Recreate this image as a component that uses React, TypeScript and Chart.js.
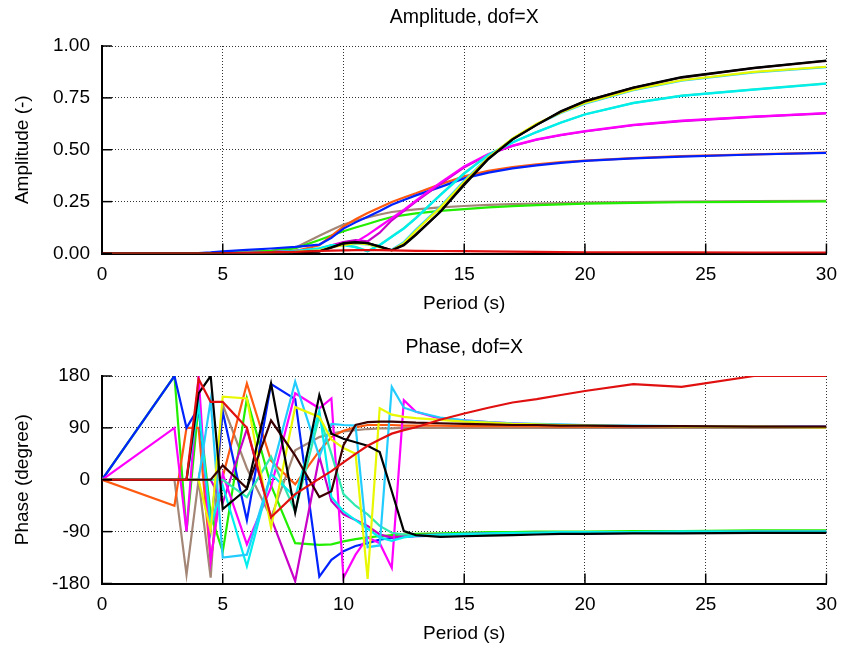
import React, { useEffect, useRef } from "react";
import { Chart, registerables } from "chart.js";

Chart.register(...registerables);

// Periods (s)
const periods = [0, 3, 3.5, 4, 4.5, 5, 6, 7, 8, 9, 9.5, 10, 10.5, 11, 11.5, 12, 12.5, 13, 14, 15, 16, 17, 18, 19, 20, 22, 24, 27, 30];

// Tick labels
const xTicks = [0, 5, 10, 15, 20, 25, 30];
const ampTicks = [0, 0.25, 0.5, 0.75, 1];
const phaseTicks = [-180, -90, 0, 90, 180];

// Series names / colours (first drawn on top)
const seriesNames = ["red", "black", "maroon", "yellow", "lightblue", "cyan", "teal", "magenta", "purple", "blue", "orange", "green", "brown"];
const seriesColors = ["#e01010", "#000000", "#3a0000", "#e8f800", "#22ccff", "#00eeee", "#30e8b0", "#ff00ff", "#c800c8", "#0022ff", "#ff5a10", "#22ee00", "#a38676"];

// Amplitude (-)
const ampRed = [0, 0, 0, 0, 0, 0.001, 0.003, 0.005, 0.008, 0.012, 0.014, 0.015, 0.016, 0.016, 0.016, 0.015, 0.014, 0.013, 0.012, 0.011, 0.01, 0.009, 0.008, 0.007, 0.006, 0.005, 0.005, 0.004, 0.004];
const ampBlack = [0, 0, 0, 0, 0, 0.001, 0.002, 0.003, 0.005, 0.01, 0.03, 0.05, 0.055, 0.05, 0.033, 0.015, 0.04, 0.09, 0.2, 0.33, 0.455, 0.55, 0.62, 0.685, 0.735, 0.8, 0.85, 0.895, 0.93];
const ampMaroon = [0, 0, 0, 0, 0, 0.001, 0.002, 0.003, 0.005, 0.01, 0.028, 0.048, 0.054, 0.05, 0.034, 0.016, 0.042, 0.092, 0.2, 0.335, 0.457, 0.55, 0.62, 0.683, 0.733, 0.798, 0.848, 0.893, 0.928];
const ampYellow = [0, 0, 0, 0, 0, 0.001, 0.002, 0.004, 0.008, 0.015, 0.03, 0.04, 0.05, 0.045, 0.03, 0.015, 0.05, 0.11, 0.22, 0.345, 0.462, 0.555, 0.625, 0.68, 0.725, 0.79, 0.835, 0.875, 0.9];
const ampLightblue = [0, 0, 0, 0, 0, 0.001, 0.002, 0.004, 0.008, 0.016, 0.03, 0.042, 0.048, 0.044, 0.03, 0.018, 0.055, 0.115, 0.225, 0.35, 0.465, 0.552, 0.622, 0.677, 0.722, 0.787, 0.833, 0.873, 0.898];
const ampCyan = [0, 0, 0, 0, 0, 0.001, 0.003, 0.006, 0.012, 0.025, 0.04, 0.04, 0.03, 0.01, 0.04, 0.08, 0.12, 0.17, 0.28, 0.385, 0.475, 0.535, 0.585, 0.63, 0.67, 0.725, 0.76, 0.79, 0.818];
const ampTeal = [0, 0, 0, 0, 0, 0.001, 0.003, 0.006, 0.012, 0.024, 0.038, 0.042, 0.032, 0.012, 0.042, 0.082, 0.122, 0.172, 0.282, 0.387, 0.476, 0.536, 0.586, 0.631, 0.671, 0.726, 0.761, 0.791, 0.82];
const ampMagenta = [0, 0, 0, 0, 0, 0.001, 0.003, 0.007, 0.013, 0.02, 0.035, 0.05, 0.055, 0.09, 0.13, 0.17, 0.21, 0.255, 0.34, 0.42, 0.48, 0.52, 0.55, 0.572, 0.59, 0.62, 0.64, 0.66, 0.677];
const ampPurple = [0, 0, 0, 0, 0, 0.001, 0.003, 0.007, 0.013, 0.022, 0.04, 0.055, 0.065, 0.058, 0.1, 0.16, 0.205, 0.25, 0.335, 0.415, 0.477, 0.518, 0.548, 0.57, 0.588, 0.618, 0.638, 0.658, 0.675];
const ampBlue = [0, 0, 0, 0.002, 0.005, 0.01, 0.017, 0.024, 0.032, 0.043, 0.075, 0.12, 0.15, 0.177, 0.205, 0.235, 0.258, 0.28, 0.32, 0.362, 0.39, 0.41, 0.425, 0.437, 0.446, 0.458, 0.467, 0.477, 0.485];
const ampOrange = [0, 0, 0, 0, 0, 0.001, 0.003, 0.006, 0.012, 0.04, 0.085, 0.13, 0.165, 0.195, 0.222, 0.248, 0.27, 0.29, 0.333, 0.372, 0.398, 0.416, 0.43, 0.44, 0.448, 0.46, 0.469, 0.478, 0.486];
const ampGreen = [0, 0, 0, 0, 0.002, 0.004, 0.008, 0.013, 0.025, 0.065, 0.087, 0.107, 0.125, 0.142, 0.16, 0.176, 0.185, 0.193, 0.205, 0.214, 0.222, 0.228, 0.233, 0.237, 0.24, 0.244, 0.247, 0.249, 0.251];
const ampBrown = [0, 0, 0, 0, 0.002, 0.004, 0.008, 0.013, 0.028, 0.085, 0.113, 0.14, 0.158, 0.174, 0.188, 0.2, 0.207, 0.213, 0.222, 0.229, 0.234, 0.238, 0.241, 0.243, 0.245, 0.248, 0.25, 0.252, 0.254];

// Phase (degree)
const phRed = [0, 0, 0, 175, 135, 135, 90, -65, -25, 2, 15, 30, 45, 59, 70, 80, 86, 91, 104, 115, 125, 134, 140, 147, 154, 166, 161, 180, 180];
const phBlack = [0, 0, 0, 150, 180, -51, -16, 167, -57, 147, 80, 71, 65, 59, 48, -20, -89, -96, -99, -98, -97, -96, -95, -94, -94, -93, -93, -92, -92];
const phMaroon = [0, 0, 0, 0, 0, 25, -15, 103, 42, -30, -20, 60, 95, 100, 101, 101, 100, 99, 98, 97, 96, 95, 95, 94, 94, 93, 93, 92, 92];
const phYellow = [0, 0, 0, 0, -88, 144, 141, -83, 126, 109, 70, 55, 45, -172, 124, 113, 109, 107, 104, 101, 99, 97, 96, 95, 94, 93, 92, 92, 91];
const phLightblue = [0, 0, 0, 0, 138, -135, -130, 10, 170, 40, 97, 95, 94, -117, -114, 161, 125, 118, 108, 103, 100, 98, 97, 96, 95, 94, 93, 92, 92];
const phCyan = [0, 0, 0, 130, -80, -10, -150, 10, -30, 120, -30, -55, -70, -85, -100, -106, -100, -97, -95, -94, -93, -92, -92, -91, -91, -91, -90, -90, -90];
const phTeal = [0, 0, 0, 0, 0, 0, -30, 40, -55, 110, 45, -25, -45, -60, -80, -92, -95, -96, -96, -95, -94, -93, -92, -92, -91, -91, -90, -90, -90];
const phMagenta = [0, 90, -90, 180, -141, 10, -112, -13, 150, 124, 141, -170, -130, -100, -110, -153, 138, 118, 106, 103, 100, 98, 96, 95, 94, 93, 92, 92, 92];
const phPurple = [0, 0, 0, 0, 0, -40, 88, -66, -176, 40, -37, -60, -70, -80, -95, -100, -98, -96, -95, -94, -93, -93, -92, -92, -91, -91, -91, -90, -90];
const phBlue = [0, 180, 90, 125, -85, 118, -70, 166, 140, -168, -139, -124, -115, -110, -104, -101, -99, -98, -97, -96, -95, -94, -94, -93, -93, -92, -92, -91, -91];
const phOrange = [0, -45, 90, 90, -140, 5, 167, 33, -8, 50, 74, 85, 91, 95, 95, 95, 94, 94, 94, 93, 93, 93, 93, 92, 92, 92, 92, 92, 92];
const phGreen = [0, 180, -90, 130, -60, -125, 141, -10, -110, -113, -112, -107, -103, -100, -98, -96, -95, -94, -93, -92, -91, -91, -90, -90, -90, -89, -89, -88, -88];
const phBrown = [0, 0, -165, 0, -170, 130, 20, -66, 51, 74, 80, 84, 86, 88, 89, 89, 90, 90, 90, 90, 90, 90, 90, 90, 90, 90, 90, 90, 90];

const ampSeries = [ampRed, ampBlack, ampMaroon, ampYellow, ampLightblue, ampCyan, ampTeal, ampMagenta, ampPurple, ampBlue, ampOrange, ampGreen, ampBrown];
const phaseSeries = [phRed, phBlack, phMaroon, phYellow, phLightblue, phCyan, phTeal, phMagenta, phPurple, phBlue, phOrange, phGreen, phBrown];

const FONT = "'Liberation Sans', Arial, Helvetica, sans-serif";

const innerTicks = {
  id: "innerTicks",
  afterDraw(chart: any) {
    const { ctx, chartArea, scales } = chart;
    ctx.save();
    ctx.strokeStyle = "#000";
    ctx.lineWidth = 1.5;
    scales.x.ticks.forEach((t: any) => {
      const px = scales.x.getPixelForValue(t.value);
      ctx.beginPath();
      ctx.moveTo(px, chartArea.bottom);
      ctx.lineTo(px, chartArea.bottom - 10);
      ctx.stroke();
    });
    scales.y.ticks.forEach((t: any) => {
      const py = scales.y.getPixelForValue(t.value);
      ctx.beginPath();
      ctx.moveTo(chartArea.left, py);
      ctx.lineTo(chartArea.left + 10, py);
      ctx.stroke();
    });
    ctx.restore();
  },
};

function makeConfig(title: string, yTitle: string, series: number[][], yTicks: number[], fmt: (v: number) => string) {
  const datasets = series.map((vals, i) => ({
    label: seriesNames[i],
    data: periods.map((p, j) => ({ x: p, y: vals[j] })),
    borderColor: seriesColors[i],
    backgroundColor: seriesColors[i],
    borderWidth: 2.2,
    pointRadius: 0,
    tension: 0,
    fill: false,
  }));
  const yMin = yTicks[0];
  const yMax = yTicks[yTicks.length - 1];
  const yStep = yTicks[1] - yTicks[0];
  return {
    type: "line" as const,
    data: { datasets },
    plugins: [innerTicks],
    options: {
      animation: false as const,
      responsive: false,
      devicePixelRatio: 1,
      layout: { padding: { left: 7, right: 15, top: 0, bottom: 10.5 } },
      plugins: {
        legend: { display: false },
        tooltip: { enabled: false },
        title: {
          display: true,
          fullSize: false,
          text: title,
          color: "#000",
          font: { family: FONT, size: 19.5, weight: "normal" as const },
          padding: { top: 6, bottom: 16.6 },
        },
      },
      scales: {
        x: {
          type: "linear" as const,
          min: xTicks[0],
          max: xTicks[xTicks.length - 1],
          afterFit: (s: any) => { s.height = 66; },
          afterBuildTicks: (s: any) => { s.ticks = xTicks.map((v) => ({ value: v })); },
          ticks: { stepSize: 5, autoSkip: false, maxRotation: 0, padding: 10, color: "#000", font: { family: FONT, size: 19 } },
          grid: { color: "rgba(0,0,0,0.8)", lineWidth: 1, drawTicks: false },
          border: { display: true, color: "#000", width: 2, dash: [1, 2] },
          title: { display: true, text: "Period (s)", color: "#000", font: { family: FONT, size: 19 }, padding: { top: 0, bottom: 4 } },
        },
        y: {
          type: "linear" as const,
          min: yMin,
          max: yMax,
          afterFit: (s: any) => { s.width = 95; },
          afterBuildTicks: (s: any) => { s.ticks = yTicks.map((v) => ({ value: v })); },
          ticks: { stepSize: yStep, padding: 12, color: "#000", font: { family: FONT, size: 19 }, callback: (v: any) => fmt(Number(v)) },
          grid: { color: "rgba(0,0,0,0.8)", lineWidth: 1, drawTicks: false },
          border: { display: true, color: "#000", width: 2, dash: [1, 2] },
          title: { display: true, text: yTitle, color: "#000", font: { family: FONT, size: 19 }, padding: { top: 4, bottom: 0 } },
        },
      },
    },
  };
}

function ChartCanvas({ cfg, top }: { cfg: any; top: number }) {
  const ref = useRef<HTMLCanvasElement | null>(null);
  useEffect(() => {
    if (!ref.current) return;
    const chart = new Chart(ref.current, cfg);
    return () => chart.destroy();
  }, [cfg]);
  return (
    <canvas
      ref={ref}
      width={847}
      height={330}
      style={{ position: "absolute", left: 0, top, width: 847, height: 330, display: "block" }}
    />
  );
}

const ampConfig = makeConfig("Amplitude, dof=X", "Amplitude (-)", ampSeries, ampTicks, (v) => v.toFixed(2));
const phaseConfig = makeConfig("Phase, dof=X", "Phase (degree)", phaseSeries, phaseTicks, (v) => String(v));

export default function App() {
  return (
    <div style={{ position: "fixed", left: 0, top: 0, width: 847, height: 649, overflow: "hidden", background: "#fff" }}>
      <ChartCanvas cfg={ampConfig} top={0} />
      <ChartCanvas cfg={phaseConfig} top={330} />
    </div>
  );
}
